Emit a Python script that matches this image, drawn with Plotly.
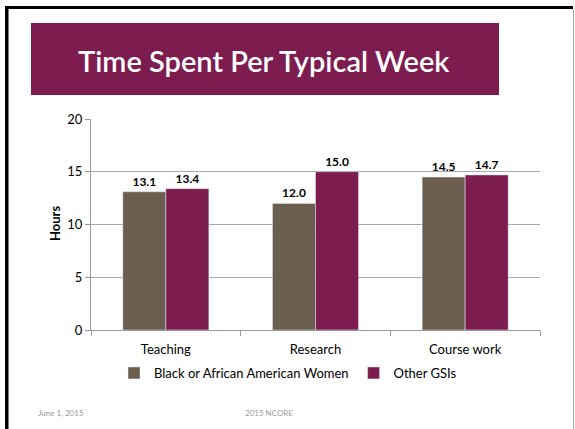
import plotly.graph_objects as go

categories = ["Teaching", "Research", "Course work"]
series_names = ["Black or African American Women", "Other GSIs"]
black_women = [13.1, 12.0, 14.5]
other_gsis = [13.4, 15.0, 14.7]
y_ticks = [0, 5, 10, 15, 20]

W, H = 575, 429
L, R, T, B = 91, 540, 119, 330
FONT = "Lato, 'Open Sans', sans-serif"

def px(x):
    return (x - L) / (R - L)

def py(y):
    return (B - y) / (B - T)

fig = go.Figure()
fig.add_trace(go.Bar(
    x=categories, y=black_women, name=series_names[0],
    marker_color="#6B5E4F",
    text=[f"{v:.1f}" for v in black_women], textposition="outside",
    textfont=dict(size=12, color="#000", family=FONT, weight="bold"),
    cliponaxis=False,
))
fig.add_trace(go.Bar(
    x=categories, y=other_gsis, name=series_names[1],
    marker_color="#7D1C4F",
    text=[f"{v:.1f}" for v in other_gsis], textposition="outside",
    textfont=dict(size=12, color="#000", family=FONT, weight="bold"),
    cliponaxis=False,
))

shapes = [
    dict(type="rect", xref="paper", yref="paper", x0=px(31), x1=px(499), y0=py(95), y1=py(23),
         fillcolor="#7D1C4F", line=dict(width=0), layer="below"),
    dict(type="rect", xref="paper", yref="paper", x0=px(5), x1=px(8.5), y0=py(429), y1=py(6),
         fillcolor="#000", line=dict(width=0)),
    dict(type="rect", xref="paper", yref="paper", x0=px(5), x1=px(573), y0=py(9), y1=py(6),
         fillcolor="#000", line=dict(width=0)),
    dict(type="line", xref="paper", yref="paper", x0=px(573.5), x1=px(573.5), y0=py(429), y1=py(9),
         line=dict(color="#AAAAAA", width=1)),
]

annotations = [
    dict(text="Time Spent Per Typical Week", xref="paper", yref="paper", x=px(264), y=py(60),
         showarrow=False, font=dict(size=29, color="white", family=FONT, weight=600),
         xanchor="center", yanchor="middle"),
    dict(text="<b>Hours</b>", xref="paper", yref="paper", x=px(55), y=py(224), textangle=-90,
         showarrow=False, font=dict(size=13, color="#000", family=FONT), xanchor="center", yanchor="middle"),
    dict(text="June 1, 2015", xref="paper", yref="paper", x=px(36), y=py(413),
         showarrow=False, font=dict(size=8, color="#999", family=FONT), xanchor="left", yanchor="middle"),
    dict(text="2015 NCORE", xref="paper", yref="paper", x=px(243), y=py(413),
         showarrow=False, font=dict(size=8, color="#999", family=FONT), xanchor="left", yanchor="middle"),
]

fig.update_layout(
    width=W, height=H,
    margin=dict(l=L, r=W - R, t=T, b=H - B, pad=0),
    paper_bgcolor="white", plot_bgcolor="white",
    barmode="group", bargap=0.425, bargroupgap=0,
    font=dict(family=FONT, size=13, color="#000"),
    showlegend=True,
    legend=dict(orientation="h", x=px(114), y=py(358), xanchor="left", yanchor="top",
                font=dict(size=13, color="#000", family=FONT), itemwidth=30, traceorder="normal",
                bgcolor="rgba(0,0,0,0)"),
    shapes=shapes, annotations=annotations,
    xaxis=dict(showline=True, linecolor="#999", linewidth=1, ticks="outside", tickson="boundaries",
               ticklen=5, tickcolor="#999", tickfont=dict(size=13, color="#000", family=FONT),
               ticklabelstandoff=7, showgrid=False, fixedrange=True),
    yaxis=dict(range=[0, 20], tickvals=y_ticks, showline=True, linecolor="#999", linewidth=1,
               ticks="outside", ticklen=5, tickcolor="#999", showgrid=True, gridcolor="#AAAAAA",
               gridwidth=1, zeroline=False, tickfont=dict(size=13, color="#000", family=FONT),
               fixedrange=True),
)

fig.write_html("out.html", config={"displayModeBar": False})
